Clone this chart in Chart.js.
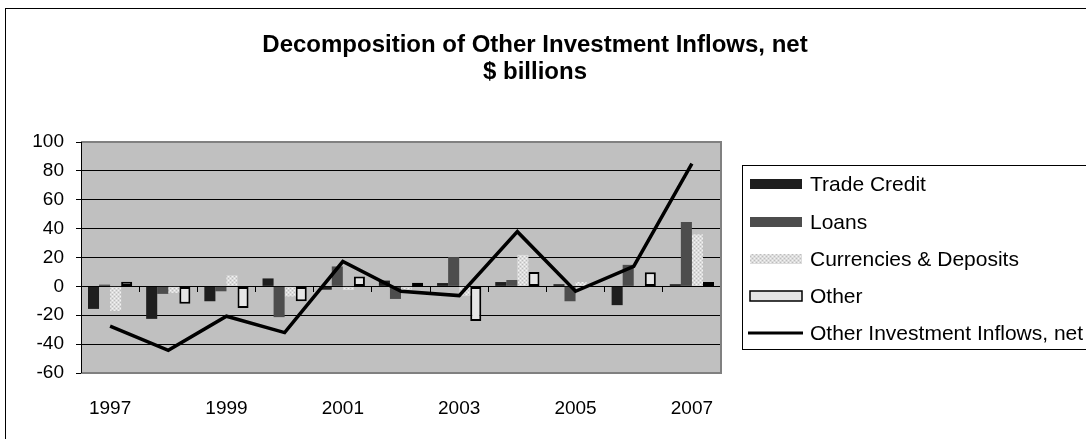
<!DOCTYPE html>
<html>
<head>
<meta charset="utf-8">
<script src="https://cdn.jsdelivr.net/npm/chart.js@4/dist/chart.umd.min.js"></script>
<style>
  html, body { margin: 0; padding: 0; background: #fff; }
</style>
</head>
<body>
<canvas id="chart" width="1086" height="439"></canvas>
<script>
// values, $ billions
const years = ['1997', '1998', '1999', '2000', '2001', '2002', '2003', '2004', '2005', '2006', '2007'];
const tradeCredit = [-15.6, -22.5, -10.3, 5.5, -2.3, 4, 2.3, 3, 1.5, -13, 1.5];
const loans = [1.2, -5.2, -3.4, -21.3, 13.8, -8.7, 20.3, 4.4, -10.3, 14.9, 44.6];
const currencies = [-17, -4.5, 7.6, -7, -2.5, -2.3, -6.5, 21.8, 3, 0, 36];
const other = [3.2, -12, -15, -10.3, 6.9, 2.5, -24, 9.9, 0, 9.8, 3];
const netInflows = [-27.6, -44.3, -20.7, -32, 17.2, -3.4, -6.4, 37.9, -3.4, 13.8, 85];
const yTicks = [-60, -40, -20, 0, 20, 40, 60, 80, 100];

Chart.defaults.font.family = '"Liberation Sans", Arial, sans-serif';
Chart.defaults.font.size = 19;
Chart.defaults.color = '#000';

// dotted light fill like the Excel pattern
function dotPattern() {
  const c = document.createElement('canvas');
  c.width = 4; c.height = 4;
  const g = c.getContext('2d');
  g.fillStyle = '#dcdcdc';
  g.fillRect(0, 0, 4, 4);
  g.fillStyle = '#f4f4f4';
  g.fillRect(0, 0, 1, 1);
  g.fillRect(2, 2, 1, 1);
  g.fillStyle = '#bdbdbd';
  g.fillRect(2, 0, 1, 1);
  g.fillRect(0, 2, 1, 1);
  return g.createPattern(c, 'repeat');
}
const dots = dotPattern();

const frame = {
  id: 'frame',
  beforeDraw(chart) {
    const { ctx, chartArea: a } = chart;
    ctx.save();
    ctx.fillStyle = '#fff';
    ctx.fillRect(0, 0, chart.width, chart.height);
    ctx.fillStyle = '#c0c0c0';
    ctx.fillRect(a.left, a.top, a.right - a.left, a.bottom - a.top);
    ctx.restore();
  },
  afterDraw(chart) {
    const { ctx, chartArea: a } = chart;
    ctx.save();
    // outer border
    ctx.strokeStyle = '#000';
    ctx.lineWidth = 1;
    ctx.strokeRect(5.5, 8.5, 1200, 600);
    // plot border (grey)
    ctx.strokeStyle = '#808080';
    ctx.lineWidth = 2;
    ctx.beginPath();
    ctx.moveTo(a.left, a.top);
    ctx.lineTo(a.right, a.top);
    ctx.lineTo(a.right, a.bottom);
    ctx.lineTo(a.left, a.bottom);
    ctx.stroke();
    ctx.strokeStyle = '#000';
    ctx.lineWidth = 1;
    ctx.beginPath();
    ctx.moveTo(a.left + 0.5, a.top);
    ctx.lineTo(a.left + 0.5, a.bottom);
    ctx.stroke();

    // title
    ctx.fillStyle = '#000';
    ctx.textAlign = 'center';
    ctx.textBaseline = 'middle';
    ctx.font = 'bold 24px "Liberation Sans", Arial, sans-serif';
    ctx.fillText('Decomposition of Other Investment Inflows, net', 535, 45);
    ctx.fillText('$ billions', 535, 72);

    // legend
    ctx.strokeStyle = '#000';
    ctx.lineWidth = 1;
    ctx.strokeRect(742.5, 165.5, 400, 184);
    ctx.font = '21px "Liberation Sans", Arial, sans-serif';
    ctx.textAlign = 'left';
    const rows = [184, 222, 259, 296, 333];
    const order = [1, 2, 3, 4, 0];
    order.forEach((di, i) => {
      const ds = chart.data.datasets[di];
      const y = rows[i];
      if (ds.type === 'line') {
        ctx.strokeStyle = ds.borderColor;
        ctx.lineWidth = 3;
        ctx.beginPath();
        ctx.moveTo(748, y);
        ctx.lineTo(803, y);
        ctx.stroke();
      } else {
        ctx.fillStyle = ds.backgroundColor;
        ctx.fillRect(750, y - 5, 52, 10);
        if (ds.borderWidth) {
          ctx.strokeStyle = '#000';
          ctx.lineWidth = 1.5;
          ctx.strokeRect(750, y - 5, 52, 10);
        }
      }
      ctx.fillStyle = '#000';
      ctx.fillText(ds.label, 810, y + 1);
    });
    ctx.restore();
  }
};

new Chart(document.getElementById('chart'), {
  data: {
    labels: years,
    datasets: [
      { type: 'line', label: 'Other Investment Inflows, net', data: netInflows,
        borderColor: '#000', borderWidth: 3.5, pointRadius: 0, tension: 0, order: 0 },
      { type: 'bar', label: 'Trade Credit', data: tradeCredit,
        backgroundColor: '#1e1e1e', order: 1 },
      { type: 'bar', label: 'Loans', data: loans,
        backgroundColor: '#4d4d4d', order: 1 },
      { type: 'bar', label: 'Currencies & Deposits', data: currencies,
        backgroundColor: dots, order: 1 },
      { type: 'bar', label: 'Other', data: other,
        backgroundColor: '#e6e6e6', borderColor: '#000', borderWidth: 2, order: 1 }
    ]
  },
  options: {
    responsive: false,
    animation: false,
    devicePixelRatio: 1,
    layout: { padding: { left: 0, right: 365, top: 142, bottom: 0 } },
    datasets: { bar: { categoryPercentage: 0.76, barPercentage: 1.0, borderSkipped: false } },
    plugins: { legend: { display: false }, title: { display: false }, tooltip: { enabled: false } },
    scales: {
      x: {
        type: 'category',
        position: 'bottom',
        offset: true,
        grid: { display: false },
        border: { display: false },
        ticks: {
          autoSkip: false, maxRotation: 0, padding: 16,
          callback: (v, i) => (i % 2 === 0 ? years[i] : '')
        },
        afterFit: s => { s.height = 66; }
      },
      x2: {
        type: 'category',
        position: { y: 0 },
        offset: true,
        grid: { offset: true, drawOnChartArea: false, tickLength: 5, color: '#000' },
        border: { color: '#000' },
        ticks: { display: false }
      },
      y: {
        min: -60, max: 100,
        afterBuildTicks: s => { s.ticks = yTicks.map(v => ({ value: v })); },
        grid: { color: '#000', lineWidth: 1, tickLength: 5 },
        border: { display: false },
        ticks: { padding: 12 },
        afterFit: s => { s.width = 81; }
      }
    }
  },
  plugins: [frame]
});
</script>
</body>
</html>
